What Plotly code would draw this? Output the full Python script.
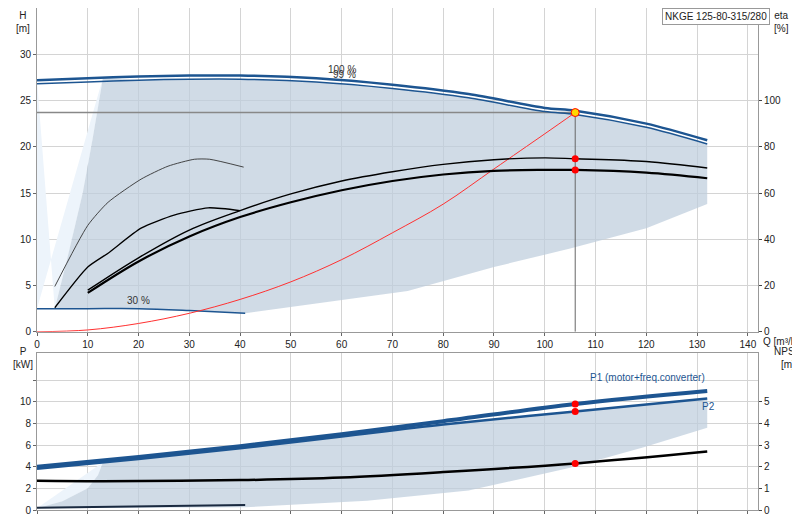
import plotly.graph_objects as go

# ---------- data ----------
q_h100 = [0, 10, 20, 30, 40, 55, 70, 85, 100, 106, 120, 132]
h_100 = [27.2, 27.4, 27.6, 27.7, 27.7, 27.4, 26.7, 25.7, 24.2, 23.9, 22.5, 20.7]
h_99 = [26.8, 27.0, 27.2, 27.3, 27.3, 27.0, 26.3, 25.3, 23.8, 23.5, 22.1, 20.3]
q_30 = [0, 10, 20, 30, 41]
h_30 = [2.5, 2.5, 2.5, 2.3, 2.0]
# shaded operating area (H)
q_area_low = [132, 120, 105, 90, 73, 41]
h_area_low = [13.8, 11.2, 9.0, 7.0, 4.4, 2.0]
q_edge = [3.5, 6, 9, 11, 13]
h_edge = [2.5, 8, 15, 21, 27.5]
# efficiency curves (eta %)
q_eta = [10, 20, 30, 40, 50, 60, 70, 80, 90, 100, 106, 120, 132]
eta_main = [16.8, 30.4, 41.2, 49.6, 56.0, 61.2, 65.2, 68.0, 69.6, 70.0, 70.0, 68.8, 66.4]
eta_p2 = [18.0, 32.0, 44.0, 52.4, 59.6, 65.2, 69.2, 72.4, 74.4, 75.2, 74.8, 73.6, 70.8]
q_etaA = [3.5, 10, 14, 20.5, 25.8, 31, 34, 40.7]
eta_A = [19.6, 46.0, 56.0, 66.0, 71.6, 74.6, 74.6, 71.2]
q_etaB = [3.5, 10, 14, 20.5, 27, 33.7, 40]
eta_B = [10.4, 28.0, 34.0, 44.8, 50.4, 53.6, 52.4]
# system curve
q_sys = [0, 10, 20, 30, 40, 50, 60, 70, 80, 90, 100, 106]
h_sys = [0, 0.2, 0.9, 2.0, 3.5, 5.4, 7.8, 10.7, 13.8, 17.6, 21.4, 23.7]
q_duty, h_duty = 106, 23.7
eta_duty = [74.8, 70.0]
# power
q_p = [0, 20, 40, 60, 80, 106, 132]
p1 = [4.0, 4.9, 5.9, 7.0, 8.2, 9.8, 11.0]
p2 = [3.8, 4.7, 5.7, 6.8, 7.9, 9.1, 10.3]
q_parea_low = [132, 119.5, 105, 95, 85, 65, 41, 0]
p_area_low = [7.6, 5.8, 3.9, 2.85, 1.8, 0.86, 0.25, 0.15]
q_pedge = [0, 5, 10, 12, 13]
p_pedge = [0.15, 0.8, 2.0, 3.2, 4.4]
q_npsh = [0, 13, 40, 60, 80, 106, 132]
npsh = [1.35, 1.33, 1.38, 1.5, 1.75, 2.15, 2.7]
q_plow = [0, 41]
p_low = [0.2, 0.45]
p_duty = [9.8, 9.1]
npsh_duty = 2.15

BLUE = "#1d5591"
SHADE = "rgba(190,205,220,0.72)"
LIGHT = "#edf4fb"

fig = go.Figure()
def sc(x, y, xa="x", ya="y", **kw):
    fig.add_trace(go.Scatter(x=x, y=y, xaxis=xa, yaxis=ya, showlegend=False,
                             hoverinfo="skip", **kw))

# top panel: light area + shaded area
sc([0] + q_edge[::-1] + [0], [2.5] + h_edge[::-1] + [27.2], fill="toself",
   fillcolor=LIGHT, mode="none")
ax = q_edge + [q for q in q_h100 if q > 13] + q_area_low + [q for q in q_30[::-1] if q < 41] + [3.5]
ay = h_edge + [h for q, h in zip(q_h100, h_99) if q > 13] + h_area_low + [h for q, h in zip(q_30[::-1], h_30[::-1]) if q < 41] + [2.5]
sc(ax, ay, fill="toself", fillcolor=SHADE, mode="none")
# reference lines
sc([0, q_duty], [h_duty, h_duty], mode="lines", line=dict(color="#888", width=1.5))
sc([q_duty, q_duty], [0, h_duty], mode="lines", line=dict(color="#666", width=1))
# head curves
sc(q_h100, h_100, mode="lines", line=dict(color=BLUE, width=2.5, shape="spline", smoothing=0.8))
sc(q_h100, h_99, mode="lines", line=dict(color=BLUE, width=1.5, shape="spline", smoothing=0.8))
sc(q_30, h_30, mode="lines", line=dict(color=BLUE, width=1.5, shape="spline"))
sc(q_sys, h_sys, mode="lines", line=dict(color="#ff3030", width=1, shape="spline"))
# efficiency
sc(q_eta, eta_main, ya="y2", mode="lines", line=dict(color="black", width=2.2, shape="spline"))
sc(q_eta, eta_p2, ya="y2", mode="lines", line=dict(color="black", width=1.4, shape="spline"))
sc(q_etaA, eta_A, ya="y2", mode="lines", line=dict(color="#333", width=0.9, shape="spline", smoothing=0.6))
sc(q_etaB, eta_B, ya="y2", mode="lines", line=dict(color="black", width=1.3, shape="spline", smoothing=0.6))
sc([q_duty] * 2, eta_duty, ya="y2", mode="markers", marker=dict(color="red", size=7))
sc([q_duty], [h_duty], mode="markers", marker=dict(color="#ffd700", size=8, line=dict(color="red", width=1)))

# bottom panel
sc([0] + q_pedge[::-1] + [0], [0.15] + p_pedge[::-1] + [3.9], xa="x2", ya="y3",
   fill="toself", fillcolor=LIGHT, mode="none")
bx = q_pedge + [q for q in q_p if q > 13] + q_parea_low
by = p_pedge + [p for q, p in zip(q_p, p2) if q > 13] + p_area_low
sc(bx, by, xa="x2", ya="y3", fill="toself", fillcolor=SHADE, mode="none")
sc(q_p, p1, xa="x2", ya="y3", mode="lines", line=dict(color=BLUE, width=4, shape="spline"))
sc(q_p, p2, xa="x2", ya="y3", mode="lines", line=dict(color=BLUE, width=2.5, shape="spline"))
sc(q_npsh, npsh, xa="x2", ya="y4", mode="lines", line=dict(color="black", width=2.5, shape="spline"))
sc(q_plow, p_low, xa="x2", ya="y3", mode="lines", line=dict(color="#1a2a40", width=2))
sc([q_duty] * 2, p_duty, xa="x2", ya="y3", mode="markers", marker=dict(color="red", size=7))
sc([q_duty], [npsh_duty], xa="x2", ya="y4", mode="markers", marker=dict(color="red", size=7))

ax_common = dict(showline=True, linecolor="#999", mirror=True, gridcolor="#d4d4d4",
                 tickfont=dict(size=10, family="Arial", color="#222"), zeroline=False,
                 ticks="outside", ticklen=3, tickcolor="#666", automargin=False)
right_common = dict(showgrid=False, tickfont=dict(size=10, color="#222"), ticks="outside",
                    ticklen=3, zeroline=False, automargin=False)
fig.update_layout(
    width=800, height=520, margin=dict(l=29, r=50, t=0, b=18),
    paper_bgcolor="white", plot_bgcolor="white", font=dict(family="Arial", size=10),
    xaxis=dict(domain=[0, 1], anchor="y", range=[0, 142], dtick=10, tick0=0, **ax_common),
    yaxis=dict(domain=[0.355, 1], range=[0, 35], tickvals=[0, 5, 10, 15, 20, 25, 30], **ax_common),
    yaxis2=dict(overlaying="y", side="right", range=[0, 140], tickvals=[0, 20, 40, 60, 80, 100],
                anchor="x", **right_common),
    xaxis2=dict(domain=[0, 1], anchor="y3", range=[0, 142], dtick=10, showticklabels=False,
                matches="x", **{k: v for k, v in ax_common.items() if k != "tickfont"}),
    yaxis3=dict(domain=[0, 0.3127], range=[0, 14.5], tickvals=[0, 2, 4, 6, 8, 10, 12],
                ticktext=["0", "2", "4", "6", "8", "10", ""], anchor="x2", **ax_common),
    yaxis4=dict(overlaying="y3", side="right", range=[0, 7.25], tickvals=[0, 1, 2, 3, 4, 5],
                anchor="x2", **right_common),
)
ann = [
    dict(text="H<br>[m]", x=0.0, y=1.0, xanchor="center", yanchor="top", xshift=-14),
    dict(text="eta<br>[%]", x=1.0, y=1.0, xanchor="left", yanchor="top", xshift=14),
    dict(text="P<br>[kW]", x=0.0, y=0.33, xanchor="center", yanchor="top", xshift=-14),
    dict(text="NPSH<br>[m]", x=1.0, y=0.33, xanchor="left", yanchor="top", xshift=14),
    dict(text="Q [m³/h]", x=1.0, y=0.355, xanchor="left", yanchor="top", xshift=3, yshift=-2),
]
for a in ann:
    fig.add_annotation(xref="paper", yref="paper", showarrow=False, align="center",
                       font=dict(size=10, color="#222"), **a)
fig.add_annotation(xref="paper", yref="paper", x=1.0, y=1.0, xanchor="right", yanchor="top",
                   text="NKGE 125-80-315/280", showarrow=False, font=dict(size=10, color="#222"),
                   bordercolor="#999", borderwidth=1, bgcolor="white", borderpad=2, xshift=12)
for t, x, y in [("100 %", 60, 28.3), ("99 %", 60.5, 27.8), ("30 %", 20, 3.4)]:
    fig.add_annotation(x=x, y=y, xref="x", yref="y", text=t, showarrow=False,
                       font=dict(size=10, color="#333"))
fig.add_annotation(x=132, y=12.2, xref="x2", yref="y3", text="P1 (motor+freq.converter)",
                   xanchor="right", showarrow=False, font=dict(size=10, color=BLUE))
fig.add_annotation(x=130.5, y=9.6, xref="x2", yref="y3", text="P2", xanchor="left",
                   showarrow=False, font=dict(size=10, color=BLUE))
fig.write_html("out.html")
